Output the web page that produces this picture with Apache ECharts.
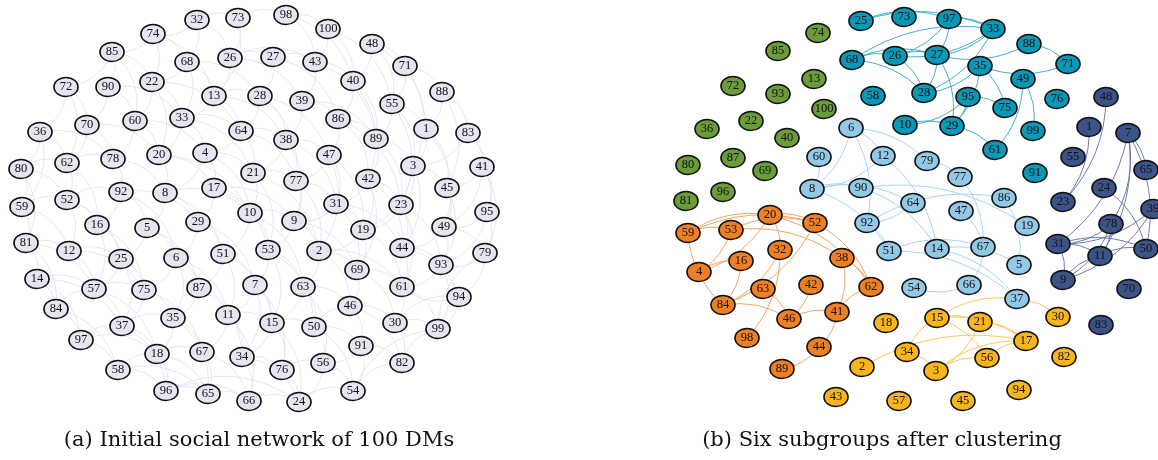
<!DOCTYPE html>
<html>
<head>
<meta charset="utf-8">
<style>
  html, body { margin: 0; padding: 0; background: #fff; }
  #chart { width: 1158px; height: 460px; }
</style>
<script src="https://cdn.jsdelivr.net/npm/echarts@6/dist/echarts.min.js"></script>
</head>
<body>
<div id="chart"></div>
<script>
// (a) node positions: [id, x, y]
const leftNodes = [
  [32,197,20],[73,238,18],[98,286,15],[100,328,29],[74,153,34],[85,112,52],[48,372,44],[68,187,62],[26,230,58],[27,273,57],
  [43,315,62],[71,405,66],[72,66,87],[90,108,87],[22,152,82],[40,353,81],[13,214,96],[28,260,96],[39,302,101],[55,392,104],
  [88,442,92],[70,87,125],[60,135,121],[33,182,118],[64,241,131],[86,338,119],[1,426,129],[83,468,133],[36,40,132],[89,376,139],
  [38,286,140],[62,67,163],[78,113,159],[20,159,155],[4,205,153],[21,253,173],[47,329,155],[80,21,169],[3,413,166],[41,482,167],
  [77,296,181],[42,368,179],[45,447,188],[92,121,192],[8,165,193],[17,214,188],[52,67,200],[31,336,204],[23,401,205],[95,487,212],
  [59,22,207],[16,97,225],[5,147,228],[29,198,222],[10,250,213],[9,294,221],[19,363,230],[81,26,243],[12,69,251],[25,121,259],
  [6,176,258],[51,223,254],[53,268,250],[2,319,251],[44,402,248],[49,444,227],[93,441,265],[79,485,253],[14,37,279],[57,94,289],
  [75,144,290],[87,199,288],[7,255,285],[63,303,287],[69,357,270],[61,402,287],[94,459,297],[84,56,309],[37,122,326],[35,173,318],
  [11,228,315],[15,272,323],[50,314,327],[46,350,306],[30,395,323],[99,438,329],[97,81,340],[18,157,354],[67,202,352],[34,242,357],
  [91,361,346],[82,402,363],[58,118,370],[76,282,370],[56,323,363],[96,166,391],[65,208,394],[66,249,401],[24,299,402],[54,353,391]
];

const leftEdges = [
  [32,73],[73,98],[98,100],[32,74],[74,85],[85,72],[85,90],[74,22],[74,68],[68,13],[68,22],[32,68],[73,26],[73,13],[26,27],
  [26,13],[27,28],[27,43],[98,43],[100,43],[100,40],[48,40],[48,71],[48,55],[43,40],[43,39],[71,88],[71,55],[88,1],[88,83],
  [40,86],[40,89],[39,38],[39,86],[28,64],[28,38],[13,64],[13,33],[22,33],[22,60],[90,60],[90,70],[72,70],[72,36],[70,62],
  [60,78],[60,20],[33,20],[33,4],[64,4],[64,21],[38,21],[38,47],[86,47],[86,89],[89,42],[89,3],[55,1],[55,89],[1,3],
  [1,45],[83,41],[41,45],[41,95],[3,45],[3,23],[36,80],[36,62],[80,59],[80,62],[62,52],[62,78],[78,92],[20,8],[4,17],
  [4,8],[21,10],[21,77],[47,77],[47,31],[42,31],[42,23],[42,19],[45,49],[95,49],[95,79],[59,52],[59,81],[52,16],[52,12],
  [92,16],[92,5],[8,5],[8,29],[17,29],[17,10],[10,9],[77,9],[31,9],[31,19],[23,44],[23,19],[49,93],[79,94],[79,93],
  [81,12],[81,14],[12,25],[16,25],[5,6],[5,25],[29,51],[29,6],[10,51],[10,53],[9,53],[9,2],[19,2],[19,69],[44,61],
  [44,93],[93,61],[94,99],[94,61],[14,57],[14,84],[25,57],[25,75],[6,75],[6,87],[51,87],[51,7],[53,7],[53,63],[2,63],
  [2,69],[69,46],[61,30],[46,30],[84,97],[84,57],[57,37],[75,37],[75,35],[87,35],[87,11],[7,11],[7,15],[63,15],[63,50],
  [50,46],[30,99],[30,82],[97,58],[97,37],[37,18],[35,18],[35,67],[11,67],[11,34],[15,34],[15,76],[50,56],[46,91],[91,82],
  [91,56],[58,96],[18,96],[67,65],[34,66],[76,24],[56,24],[56,54],[54,82],[96,65],[65,66],[66,24],[24,54],
  [20,10],[4,21],[33,64],[8,51],[17,53],[92,6],[16,75],[12,57],[64,38],[28,77],[38,31],[47,2],[86,23],[55,3],[3,44],
  [21,53],[77,2],[31,69],[42,44],[23,61],[49,44],[6,35],[51,11],[53,15],[7,34],[63,46],[2,46],[69,61],[11,15],[15,50],
  [50,91],[34,76],[18,67],[37,35],[57,75],[52,92],[70,78],[13,28],[26,43],[68,33],[22,20],[85,22],[72,62],[36,59],[80,81],
  [81,84],[14,97],[58,18],[96,66],[54,99],[82,99],[99,79],[41,79],[83,95],
  [32,26],[74,13],[85,60],[90,33],[22,64],[68,28],[26,39],[27,86],[98,40],[100,55],[43,89],[48,1],[71,3],[88,45],
  [83,3],[36,78],[70,20],[60,4],[33,21],[13,38],[28,47],[39,89],[40,42],[55,23],[1,49],[41,49],[62,16],[78,8],[20,17],
  [4,10],[64,77],[38,9],[47,19],[86,42],[89,23],[3,19],[45,93],[95,93],[80,52],[52,25],[92,29],[8,10],[17,9],[21,2],
  [77,31],[31,44],[42,69],[23,93],[59,12],[16,57],[5,87],[29,7],[10,63],[9,69],[19,61],[44,94],[49,79],[81,57],[12,75],
  [25,37],[6,11],[51,15],[53,50],[2,61],[69,30],[93,99],[14,37],[57,18],[75,67],[87,34],[7,76],[63,56],[46,82],[61,99],
  [84,58],[37,96],[35,65],[11,66],[15,24],[50,54],[91,54],[30,94],[97,18],[18,65],[67,66],[34,24],[76,56],[58,65],[96,24]
];

// (b) node positions: [id, x, y]
const rightNodes = [
  [74,818,33],[85,778,51],[13,814,79],[72,733,86],[93,778,94],[100,824,109],[22,751,121],[36,707,129],[40,787,138],[80,688,165],
  [87,733,158],[69,765,171],[81,686,201],[96,723,192],
  [25,861,21],[73,904,17],[97,949,19],[33,993,29],[88,1029,44],[71,1068,64],[68,852,60],[26,895,56],[27,937,55],[35,980,66],
  [49,1023,79],[58,873,96],[28,924,93],[95,968,97],[75,1005,108],[76,1057,99],[10,905,125],[29,952,126],[99,1033,131],[61,995,150],
  [91,1035,173],
  [6,851,128],[60,819,157],[12,883,156],[79,927,161],[77,960,177],[8,812,189],[90,861,188],[64,913,203],[47,961,211],[86,1004,198],
  [92,867,223],[14,937,249],[67,983,247],[19,1027,226],[51,889,251],[54,914,288],[66,969,285],[5,1019,265],[37,1017,299],
  [48,1106,97],[1,1089,127],[7,1128,133],[55,1073,157],[65,1146,170],[24,1104,188],[23,1063,202],[39,1153,209],[78,1111,224],[31,1058,244],
  [50,1146,249],[11,1100,256],[9,1063,280],[70,1129,289],[83,1101,325],
  [59,688,233],[53,731,230],[20,770,215],[52,815,223],[32,780,250],[16,741,261],[4,699,272],[38,842,258],[63,763,289],[42,811,285],
  [84,723,305],[46,789,319],[62,871,287],[41,837,312],[98,747,338],[44,819,347],[89,782,369],
  [18,886,323],[15,937,318],[21,980,322],[30,1058,317],[34,907,352],[17,1026,341],[56,987,358],[2,862,367],[3,936,371],[82,1064,357],
  [43,836,397],[57,899,401],[45,963,401],[94,1019,390]
];

// subgroup membership
const greenIds = [74,85,13,72,93,100,22,36,40,80,87,69,81,96];
const tealIds = [25,73,97,33,88,71,68,26,27,35,49,58,28,95,75,76,10,29,99,61,91];
const lightIds = [6,60,12,79,77,8,90,64,47,86,92,14,67,19,51,54,66,5,37];
const navyIds = [48,1,7,55,65,24,23,39,78,31,50,11,9,70,83];
const orangeIds = [59,53,20,52,32,16,4,38,63,42,84,46,62,41,98,44,89];
const yellowIds = [18,15,21,30,34,17,56,2,3,82,43,57,45,94];

const tealEdges = [
  [25,33],[25,97],[97,33],[97,26],[97,27],[33,27],[33,28],[33,26],[68,33],[88,71],[88,27],[71,35],[35,28],[35,75],[35,29],
  [95,75],[95,10],[95,29],[10,29],[29,61],[49,61],[49,99],[27,29],[27,28],[26,28],[26,27],[68,27],[68,28],[68,26]
];
const lightEdges = [
  [6,12],[6,79],[6,8],[6,92],[12,8],[12,14],[60,8],[8,51],[8,90],[8,64],[90,19],[90,14],[79,77],[77,67],[64,92],
  [92,51],[92,86],[51,67],[51,37],[14,5],[14,37],[67,66],[66,54],[86,5],[47,67]
];
const navyEdges = [
  [48,23],[1,23],[7,31],[7,78],[7,11],[7,50],[7,65],[24,50],[39,31],[39,9],[78,31],[78,9],[78,11],[31,50],[31,11],
  [9,11],[11,50],[31,9]
];
const orangeEdges = [
  [20,52],[59,53],[59,52],[53,52],[53,38],[53,4],[20,4],[4,16],[16,84],[32,84],[52,84],[84,46],[84,59],[63,46],[42,46],
  [46,41],[41,62],[38,41],[38,62],[52,62],[20,62],[41,44],[44,89],[32,98],[20,32],[59,20]
];
const yellowEdges = [
  [15,37],[37,30],[15,21],[15,17],[15,56],[21,17],[21,3],[3,56],[3,17],[56,17],[34,15],[34,3],[2,17]
];

const groupColors = ['#6b9c3a', '#0a98b6', '#92c9e6', '#3b5387', '#ef7f24', '#f8b51c'];
const edgeColors  = ['#6b9c3a', '#2fa6c2', '#9fd1ec', '#5d70a3', '#f39a4e', '#f9c24a'];

const ellipse = 'path://M0,10A10,10 0 1,1 20,10A10,10 0 1,1 0,10Z';
const labelFont = { fontFamily: 'Liberation Serif', fontSize: 12.5, color: '#111' };

const leftData = leftNodes.map(n => ({ name: String(n[0]), value: [n[1], n[2]] }));
const leftLinks = leftEdges.map(e => ({ source: String(e[0]), target: String(e[1]) }));

const groups = [greenIds, tealIds, lightIds, navyIds, orangeIds, yellowIds];
const groupOf = {};
groups.forEach((ids, g) => ids.forEach(id => { groupOf[id] = g; }));

const rightData = rightNodes.map(n => ({ name: String(n[0]), value: [n[1], n[2]], category: groupOf[n[0]] }));
const rightLinks = [];
[[], tealEdges, lightEdges, navyEdges, orangeEdges, yellowEdges].forEach((list, g) => {
  list.forEach(e => rightLinks.push({
    source: String(e[0]), target: String(e[1]),
    lineStyle: { color: edgeColors[g] }
  }));
});

const titleStyle = { fontFamily: 'DejaVu Serif', fontSize: 21, fill: '#111', align: 'center', verticalAlign: 'middle' };

const chart = echarts.init(document.getElementById('chart'));
chart.setOption({
  animation: false,
  backgroundColor: '#fff',
  grid: { left: 0, right: 0, top: 0, bottom: 0 },
  xAxis: { type: 'value', min: 0, max: 1158, show: false },
  yAxis: { type: 'value', min: 0, max: 460, inverse: true, show: false },
  graphic: [
    { type: 'text', x: 259, y: 441, style: { text: '(a) Initial social network of 100 DMs', ...titleStyle } },
    { type: 'text', x: 882, y: 441, style: { text: '(b) Six subgroups after clustering', ...titleStyle } }
  ],
  series: [
    {
      type: 'graph',
      coordinateSystem: 'cartesian2d',
      symbol: ellipse,
      symbolSize: [24, 19],
      data: leftData,
      links: leftLinks,
      z: 2,
      itemStyle: { color: '#e6e6f3', borderColor: '#111', borderWidth: 1.5 },
      lineStyle: { color: '#dedef0', width: 1, opacity: 0.75, curveness: 0.3 },
      label: { show: true, position: 'inside', formatter: '{b}', ...labelFont },
      emphasis: { disabled: true }
    },
    {
      type: 'graph',
      coordinateSystem: 'cartesian2d',
      symbol: ellipse,
      symbolSize: [24, 19],
      data: rightData,
      links: rightLinks,
      categories: groupColors.map((c, i) => ({ name: 'g' + i, itemStyle: { color: c } })),
      z: 2,
      itemStyle: { borderColor: '#111', borderWidth: 1.5 },
      lineStyle: { width: 1, opacity: 0.9, curveness: 0.2 },
      label: { show: true, position: 'inside', formatter: '{b}', ...labelFont },
      emphasis: { disabled: true }
    }
  ]
});
</script>
</body>
</html>
